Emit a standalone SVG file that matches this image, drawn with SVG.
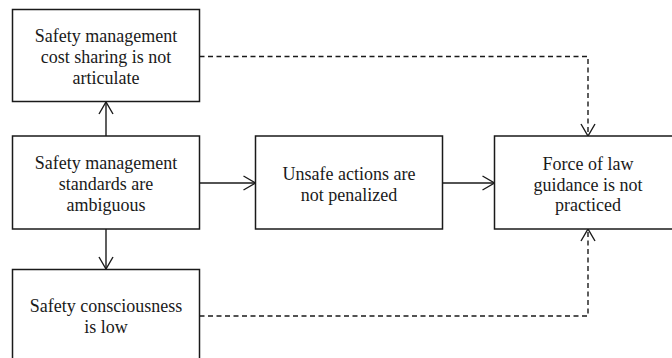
<svg xmlns="http://www.w3.org/2000/svg" width="672" height="358" viewBox="0 0 672 358">
  <defs>
    <style>
      .box { fill: #ffffff; stroke: #1a1a1a; stroke-width: 1.5; }
      .lbl { font-family: "Liberation Serif", "Times New Roman", serif; font-size: 18px; fill: #1a1a1a; text-anchor: middle; }
      .solid { fill: none; stroke: #1a1a1a; stroke-width: 1.4; marker-end: url(#chev); }
      .dash { fill: none; stroke: #1a1a1a; stroke-width: 1.4; stroke-dasharray: 5 3.5; marker-end: url(#chev); }
    </style>
    <marker id="chev" markerUnits="userSpaceOnUse" viewBox="0 0 14 16" refX="13" refY="8" markerWidth="14" markerHeight="16" orient="auto">
      <path d="M1,1 L13,8 L1,15" fill="none" stroke="#1a1a1a" stroke-width="1.4" stroke-dasharray="none"/>
    </marker>
  </defs>
  <rect width="672" height="358" fill="#ffffff"/>

  <g id="connectors">
    <!-- standards -> cost sharing -->
    <path class="solid" d="M106,136 L106,102"/>
    <!-- standards -> consciousness -->
    <path class="solid" d="M106,229 L106,269"/>
    <!-- standards -> unsafe actions -->
    <path class="solid" d="M199.5,183 L255.5,183"/>
    <!-- unsafe actions -> force of law -->
    <path class="solid" d="M442.5,183 L494.5,183"/>
    <!-- cost sharing -> force of law (dashed) -->
    <path class="dash" d="M199.5,56.5 L588,56.5 L588,136"/>
    <!-- consciousness -> force of law (dashed) -->
    <path class="dash" d="M199.5,316 L588,316 L588,229"/>
  </g>

  <g id="cost-sharing">
    <rect class="box" x="12.5" y="9.5" width="187" height="92"/>
    <text class="lbl" x="106" y="42">Safety management</text>
    <text class="lbl" x="106" y="63">cost sharing is not</text>
    <text class="lbl" x="106" y="84">articulate</text>
  </g>

  <g id="standards">
    <rect class="box" x="12.5" y="136" width="187" height="93"/>
    <text class="lbl" x="106" y="168.5">Safety management</text>
    <text class="lbl" x="106" y="190">standards are</text>
    <text class="lbl" x="106" y="211">ambiguous</text>
  </g>

  <g id="consciousness">
    <rect class="box" x="12.5" y="269.5" width="187" height="100"/>
    <text class="lbl" x="106" y="312">Safety consciousness</text>
    <text class="lbl" x="106" y="333">is low</text>
  </g>

  <g id="unsafe-actions">
    <rect class="box" x="255.5" y="136" width="187" height="93"/>
    <text class="lbl" x="349" y="179.5">Unsafe actions are</text>
    <text class="lbl" x="349" y="200.5">not penalized</text>
  </g>

  <g id="force-of-law">
    <rect class="box" x="494.5" y="136" width="187" height="93"/>
    <text class="lbl" x="588" y="169.5">Force of law</text>
    <text class="lbl" x="588" y="190.5">guidance is not</text>
    <text class="lbl" x="588" y="211">practiced</text>
  </g>
</svg>
